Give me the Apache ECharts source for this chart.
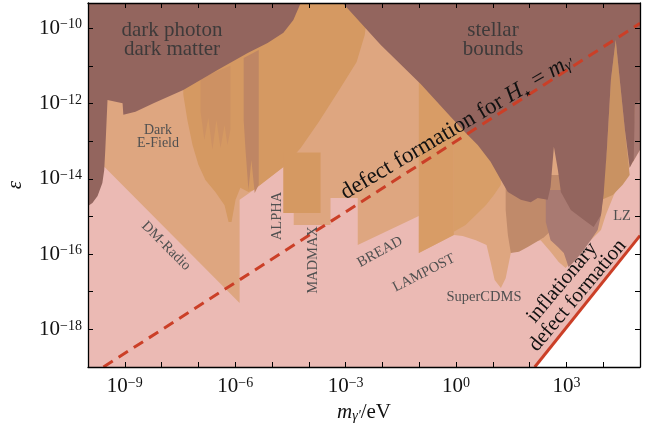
<!DOCTYPE html>
<html>
<head>
<meta charset="utf-8">
<title>Dark photon dark matter parameter space</title>
<script src="https://cdn.jsdelivr.net/npm/echarts@6/dist/echarts.min.js"></script>
<style>
  html, body { margin: 0; padding: 0; background: #fff; }
  #chart { width: 657px; height: 427px; }
</style>
</head>
<body>
<div id="chart"></div>
<script>
// every point is [log10(m / eV), log10(epsilon)]
const xRange = [-10, 5]
const yRange = [-19, -9.33]

// background: everything above the inflationary defect line
const pinkRegion = [[-10, -19], [2.14, -19], [5, -15.51], [5, -9.33], [-10, -9.33]]

// haloscope / cavity limits (light tan)
const haloscopeRegion = [
  [-9.66, -9.33], [5, -9.33], [5, -13.23], [4.81, -13.55], [4.53, -13.98], [4.29, -14.43],
  [4.07, -14.96], [3.94, -15.36], [3.66, -15.63], [3.40, -15.89], [3.12, -16.21], [2.98, -16.37],
  [2.79, -16.21], [2.57, -15.94], [2.30, -15.63], [1.98, -15.71], [1.76, -15.76], [1.57, -15.89],
  [1.49, -15.97], [1.35, -16.64], [1.22, -16.90], [1.05, -16.69], [0.94, -16.21], [0.83, -15.76],
  [0.54, -15.63], [0.18, -15.52], [-0.06, -15.49], [-1.01, -15.97], [-1.01, -14.99], [-2.67, -15.76],
  [-2.67, -14.51], [-3.41, -14.51], [-3.41, -15.23], [-4.41, -15.23], [-4.41, -14.91], [-4.69, -14.91],
  [-4.69, -13.69], [-5.50, -14.30], [-5.88, -14.56], [-5.88, -17.30], [-9.53, -13.71], [-9.66, -13.63]
]

// darker orange limits
const cavityRegion = [
  [-7.43, -9.33], [-2.37, -9.33], [-2.48, -10.18], [-2.70, -10.90], [-3.14, -11.59], [-3.73, -12.49],
  [-4.22, -13.18], [-4.58, -13.58], [-4.69, -13.69], [-5.50, -14.30], [-5.64, -14.35], [-5.86, -14.24],
  [-5.99, -14.56], [-6.10, -15.15], [-6.18, -15.15], [-6.29, -14.70], [-6.54, -14.35], [-6.81, -14.03],
  [-7.00, -13.63], [-7.16, -13.10], [-7.30, -12.44], [-7.41, -11.77]
]
const alphaBlock = [[-4.69, -13.3], [-3.68, -13.3], [-3.68, -14.91], [-4.69, -14.91]]
const lampostBlock = [[-1.01, -11.24], [-0.06, -11.24], [-0.06, -15.49], [-1.01, -15.97]]
const midOrange = [
  [-0.06, -11.64], [1.22, -11.64], [1.22, -14.16], [1.03, -14.43], [0.81, -14.70],
  [0.54, -14.96], [0.26, -15.23], [-0.06, -15.41]
]
const streakA = [
  [-6.94, -11.32], [-6.13, -11.00], [-6.13, -12.70], [-6.21, -13.10], [-6.29, -12.57], [-6.40, -13.18],
  [-6.51, -12.44], [-6.62, -13.23], [-6.73, -12.38], [-6.84, -12.97], [-6.94, -12.22]
]
const streakB = [
  [-5.77, -10.79], [-5.36, -10.58], [-5.36, -14.16], [-5.47, -14.38], [-5.56, -13.50],
  [-5.64, -14.30], [-5.72, -13.23], [-5.77, -12.44]
]
const highMassBrown = [
  [1.35, -13.90], [2.90, -13.90], [2.90, -15.04], [2.66, -15.31], [2.39, -15.55], [2.18, -15.68],
  [1.95, -15.81], [1.71, -15.94], [1.49, -15.97], [1.41, -15.49], [1.35, -14.83]
]
const spikeRegion = [
  [3.96, -14.56], [4.10, -13.23], [4.21, -11.37], [4.34, -10.31], [4.45, -11.37],
  [4.59, -12.70], [4.72, -13.90], [4.53, -14.16], [4.26, -14.43]
]
const lzRegion = [
  [2.44, -14.30], [4.01, -14.30], [3.94, -14.96], [3.85, -15.36], [3.66, -15.63], [3.47, -15.89],
  [3.25, -16.16], [3.06, -16.35], [2.93, -15.97], [2.77, -15.81], [2.57, -15.63], [2.44, -15.15]
]
const edgeStrip = [[4.86, -11.91], [5, -11.91], [5, -13.23], [4.81, -13.55], [4.83, -12.70]]

// dark bounds
const darkPhotonDM = [
  [-10, -9.33], [-4.22, -9.33], [-4.42, -9.78], [-4.69, -10.12], [-5.12, -10.39], [-5.66, -10.66],
  [-6.48, -11.11], [-7.41, -11.64], [-8.22, -11.99], [-8.71, -12.22], [-9.04, -12.30], [-9.06, -11.99],
  [-9.47, -11.91], [-9.50, -12.57], [-9.53, -13.23], [-9.56, -13.77], [-9.61, -14.11], [-9.74, -14.46],
  [-9.88, -14.64], [-10, -14.72]
]
const stellarBounds = [
  [-3.08, -9.33], [5, -9.33], [5, -11.91], [4.86, -12.04], [4.83, -13.50], [4.72, -13.71],
  [4.59, -12.70], [4.45, -11.37], [4.34, -10.31], [4.21, -11.37], [4.10, -13.23], [4.01, -14.43],
  [3.94, -14.96], [3.74, -15.28], [3.47, -15.09], [3.12, -14.83], [2.85, -14.35], [2.77, -13.77],
  [2.66, -13.15], [2.57, -14.22], [2.49, -14.56], [2.22, -14.51], [2.03, -14.62], [1.76, -14.56],
  [1.41, -14.35], [1.22, -14.03], [0.94, -13.55], [0.59, -13.10], [0.26, -12.78], [-0.14, -12.36],
  [-0.96, -11.48], [-2.05, -10.44]
]

// defect formation lines
const defectLine = [[-9.58, -19], [5, -9.87]]
const inflationLine = [[2.14, -19], [5, -15.51]]

const serif = '"Liberation Serif", "DejaVu Serif", serif'
const lineRed = '#cb3f27'

const chart = echarts.init(document.getElementById('chart'))

// 多边形区域
const region = (pts, color) => ({
  type: 'custom',
  coordinateSystem: 'cartesian2d',
  silent: true,
  clip: true,
  data: pts,
  renderItem: (params, api) => {
    if (params.dataIndex !== 0) return null
    return {
      type: 'polygon',
      shape: { points: pts.map(p => api.coord(p)) },
      style: { fill: color }
    }
  }
})

const powLabel = (v) => `{b|10}{s|${v < 0 ? '−' : ''}${Math.abs(v)}}`
const labelRich = {
  b: { fontSize: 21, fontFamily: serif, color: '#111' },
  s: { fontSize: 14, fontFamily: serif, color: '#111', verticalAlign: 'top' }
}

const axisCommon = {
  type: 'value',
  interval: 1,
  z: 10,
  splitLine: { show: false },
  axisLine: { show: true, onZero: false, lineStyle: { color: '#000', width: 1.3 } },
  axisTick: { show: true, inside: true, length: 5, lineStyle: { color: '#000', width: 1 } }
}

const label = (text, x, y, deg, size, color) => ({
  type: 'text',
  x, y,
  rotation: (deg || 0) * Math.PI / 180,
  z: 100,
  silent: true,
  style: {
    text,
    fill: color || '#505050',
    fontSize: size || 14.5,
    fontFamily: serif,
    align: 'center',
    verticalAlign: 'middle',
    lineHeight: (size || 14.5) * 0.95
  }
})

const option = {
  animation: false,
  grid: { left: 88, right: 17, top: 3, bottom: 60, outerBoundsMode: 'none' },
  xAxis: [
    {
      ...axisCommon,
      min: xRange[0], max: xRange[1],
      name: '{i|m}{sub|γ′}{n|/eV}',
      nameLocation: 'middle',
      nameGap: 33,
      nameTextStyle: {
        rich: {
          i: { fontSize: 21, fontFamily: serif, fontStyle: 'italic', color: '#111' },
          sub: { fontSize: 14, fontFamily: serif, fontStyle: 'italic', color: '#111', verticalAlign: 'bottom' },
          n: { fontSize: 21, fontFamily: serif, color: '#111' }
        }
      },
      axisLabel: {
        margin: 9,
        showMaxLabel: false,
        showMinLabel: false,
        formatter: v => (Number.isInteger(v) && v % 3 === 0) ? powLabel(v) : '',
        rich: labelRich
      }
    },
    {
      ...axisCommon,
      position: 'top',
      min: xRange[0], max: xRange[1],
      axisLabel: { show: false }
    }
  ],
  yAxis: [
    {
      ...axisCommon,
      min: yRange[0], max: yRange[1],
      name: 'ε',
      nameLocation: 'middle',
      nameGap: 62,
      nameTextStyle: { fontSize: 21, fontFamily: serif, fontStyle: 'italic', color: '#111' },
      axisLabel: {
        margin: 6,
        showMaxLabel: false,
        formatter: v => (Number.isInteger(v) && v % 2 === 0) ? powLabel(v) : '',
        rich: labelRich
      }
    },
    {
      ...axisCommon,
      position: 'right',
      min: yRange[0], max: yRange[1],
      axisLabel: { show: false }
    }
  ],
  series: [
    region(pinkRegion, '#ebbab4'),
    region(haloscopeRegion, '#dea680'),
    region(cavityRegion, '#d59962'),
    region(streakA, '#cd9163'),
    region(streakB, '#bf8664'),
    region(alphaBlock, '#d59962'),
    region(lampostBlock, '#d89c66'),
    region(midOrange, '#d89e68'),
    region(highMassBrown, '#c08a6a'),
    region(spikeRegion, '#c99262'),
    region(lzRegion, '#a97a72'),
    region(edgeStrip, '#a97a72'),
    region(darkPhotonDM, '#93655e'),
    region(stellarBounds, '#93655e'),
    {
      type: 'line',
      data: defectLine,
      showSymbol: false,
      silent: true,
      z: 5,
      lineStyle: { color: lineRed, width: 3, type: [11, 7] }
    },
    {
      type: 'line',
      data: inflationLine,
      showSymbol: false,
      silent: true,
      z: 5,
      lineStyle: { color: lineRed, width: 3 }
    }
  ],
  graphic: [
    label('dark photon\ndark matter', 172, 40, 0, 21, '#3e3a3a'),
    label('stellar\nbounds', 493, 40, 0, 21, '#3e3a3a'),
    label('Dark\nE-Field', 158, 137, 0, 14),
    label('DM-Radio', 166, 246, -45),
    label('ALPHA', 277, 216, 90),
    label('MADMAX', 313, 260, 90),
    label('BREAD', 380, 252, 29),
    label('LAMPOST', 424, 273, 27),
    label('SuperCDMS', 484, 297, 0),
    label('LZ', 622, 216, 0),
    label('inflationary\ndefect formation', 570, 289, 50, 21, '#111'),
    {
      type: 'text',
      x: 457, y: 127,
      rotation: 30.5 * Math.PI / 180,
      z: 100,
      silent: true,
      style: {
        text: '{n|defect formation for }{i|H}{star|★}{n| = }{i|m}{sub|γ′}',
        align: 'center',
        verticalAlign: 'middle',
        fill: '#111',
        rich: {
          n: { fontSize: 23, fontFamily: serif, fill: '#111' },
          i: { fontSize: 23, fontFamily: serif, fontStyle: 'italic', fill: '#111' },
          star: { fontSize: 8, fontFamily: '"DejaVu Sans", sans-serif', fill: '#111', verticalAlign: 'bottom', padding: [0, 1, 0, 0] },
          sub: { fontSize: 15, fontFamily: serif, fontStyle: 'italic', fill: '#111', verticalAlign: 'bottom' }
        }
      }
    }
  ]
}

chart.setOption(option)
</script>
</body>
</html>
